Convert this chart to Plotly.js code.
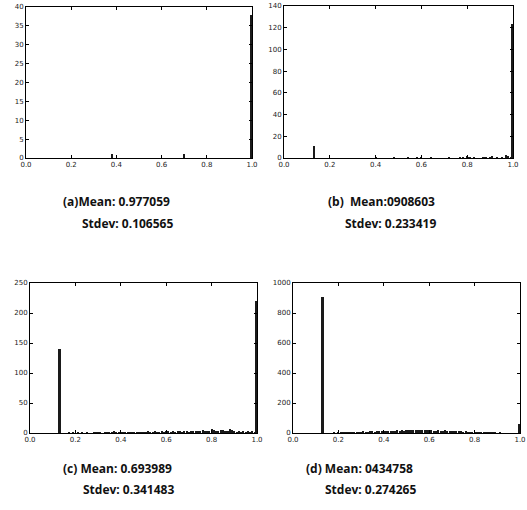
<!DOCTYPE html>
<html>
<head>
<meta charset="utf-8">
<script src="https://cdn.plot.ly/plotly-3.0.1.min.js"></script>
<style>body{margin:0;padding:0;background:#fff}#chart{width:527px;height:510px}</style>
</head>
<body>
<div id="chart"></div>
<script>
// Panel (a)
const aX = [0.38, 0.70, 0.995];
const aY = [1, 1, 38];
// Panel (b)
const bX = [0.13, 0.40, 0.48, 0.54, 0.58, 0.60, 0.64, 0.72, 0.77, 0.78, 0.80, 0.81, 0.83, 0.87, 0.88, 0.90, 0.91, 0.93, 0.95, 0.97, 0.98, 0.99, 0.995];
const bY = [11, 0.5, 1, 1, 1, 1, 0.5, 0.5, 1, 1, 1.5, 1, 1, 1, 1, 1, 1.5, 1, 1, 3, 2, 1, 123];
// Panel (c)
const cX = [0.13, 0.17,0.19,0.21,0.23,0.25,0.28,0.29,0.30,0.31,0.33,0.34,0.35,0.36,0.37,0.38,0.39,0.40,0.41,0.42,0.43,0.44,0.45,0.46,0.47,0.48,0.49,0.50,0.51,0.52,0.53,0.54,0.55,0.56,0.57,0.58,0.59,0.60,0.61,0.62,0.63,0.64,0.65,0.66,0.67,0.68,0.69,0.70,0.71,0.72,0.73,0.74,0.75,0.76,0.77,0.78,0.79,0.80,0.81,0.82,0.83,0.84,0.85,0.86,0.87,0.88,0.89,0.90,0.91,0.92,0.93,0.94,0.95,0.96,0.97,0.98,0.99, 0.995];
const cY = [140, 1,1,1,1,1,1,1,1,1,1,1,1,1,3,1,1,1,1,2,1,2,1,1,2,1,2,2,1,3,2,2,3,2,2,3,2,3,4,2,3,2,3,3,2,3,3,2,4,3,3,4,3,5,4,3,4,6,5,3,4,5,5,4,3,6,5,3,2,3,2,3,2,3,2,3,2, 220];
// Panel (d)
const dX = [0.13, 0.15,0.16,0.17,0.18,0.19,0.20,0.21,0.22,0.23,0.24,0.25,0.26,0.27,0.28,0.29,0.30,0.31,0.32,0.33,0.34,0.35,0.36,0.37,0.38,0.39,0.40,0.41,0.42,0.43,0.44,0.45,0.46,0.47,0.48,0.49,0.50,0.51,0.52,0.53,0.54,0.55,0.56,0.57,0.58,0.59,0.60,0.61,0.62,0.63,0.64,0.65,0.66,0.67,0.68,0.69,0.70,0.71,0.72,0.73,0.74,0.75,0.76,0.77,0.78,0.79,0.80,0.81,0.82,0.83,0.84,0.85,0.86,0.87,0.88,0.89,0.90,0.91,0.92,0.93,0.94,0.95,0.96,0.97,0.98, 0.995];
const dY = [910, 2,3,2,4,3,5,4,6,5,7,6,8,7,9,8,9,11,9,10,12,11,10,12,13,11,14,13,15,14,16,15,17,14,18,16,18,17,19,21,18,20,19,17,18,20,18,17,16,15,17,14,15,18,14,13,15,12,13,11,12,10,11,9,10,9,8,10,7,8,6,7,5,6,4,5,3,4,3,2,3,2,2,1,1, 60];

const xTicks = [0, 0.2, 0.4, 0.6, 0.8, 1.0];
const xTickText = ['0.0', '0.2', '0.4', '0.6', '0.8', '1.0'];

const barW = 0.009;
function bars(x, y, xa, ya) {
  return {type: 'bar', x: x, y: y, xaxis: xa, yaxis: ya, width: barW,
          marker: {color: '#1a1a1a', line: {width: 0}}, hoverinfo: 'skip', showlegend: false};
}
const data = [
  bars(aX, aY, 'x', 'y'),
  bars(bX, bY, 'x2', 'y2'),
  bars(cX, cY, 'x3', 'y3'),
  bars(dX, dY, 'x4', 'y4')
];

const W = 527, H = 510;
function dx(a, b) { return [a / W, b / W]; }
function dy(top, bot) { return [1 - bot / H, 1 - top / H]; }
const tickFont = {family: 'DejaVu Sans', size: 7, color: '#222'};
function xax(dom, anchor) {
  return {domain: dom, anchor: anchor, range: [0, 1], tickvals: xTicks, ticktext: xTickText,
          ticks: 'inside', ticklen: 3, tickcolor: '#000', mirror: 'ticks', showline: true, linecolor: '#000',
          linewidth: 1, showgrid: false, zeroline: false, tickfont: tickFont, fixedrange: true};
}
function yax(dom, anchor, max, step) {
  return {domain: dom, anchor: anchor, range: [0, max], dtick: step, tick0: 0,
          ticks: 'inside', ticklen: 3, tickcolor: '#000', mirror: 'ticks', showline: true, linecolor: '#000',
          linewidth: 1, showgrid: false, zeroline: false, tickfont: tickFont, fixedrange: true};
}

const capFont = {family: 'Open Sans', size: 12, color: '#111', weight: 'bold'};
function cap(text, x, y) {
  return {text: text, xref: 'paper', yref: 'paper', x: x / W, y: 1 - y / H,
          xanchor: 'left', yanchor: 'middle', showarrow: false, font: capFont};
}

const layout = {
  width: W, height: H,
  margin: {l: 0, r: 0, t: 0, b: 0},
  paper_bgcolor: '#fff', plot_bgcolor: '#fff',
  bargap: 0,
  xaxis: xax(dx(26, 252), 'y'),
  yaxis: yax(dy(7, 158), 'x', 40, 5),
  xaxis2: xax(dx(284, 513), 'y2'),
  yaxis2: yax(dy(6, 158), 'x2', 140, 20),
  xaxis3: xax(dx(30, 257), 'y3'),
  yaxis3: yax(dy(283, 433), 'x3', 250, 50),
  xaxis4: xax(dx(293, 520), 'y4'),
  yaxis4: yax(dy(283, 433), 'x4', 1000, 200),
  annotations: [
    cap('(a)Mean: 0.977059', 61, 202),
    cap('Stdev: 0.106565', 80, 223),
    cap('(b)  Mean:0908603', 326, 202),
    cap('Stdev: 0.233419', 343, 223),
    cap('(c) Mean: 0.693989', 61, 468),
    cap('Stdev: 0.341483', 81, 489),
    cap('(d) Mean: 0434758', 304, 468),
    cap('Stdev: 0.274265', 323, 489)
  ]
};

Plotly.newPlot('chart', data, layout, {staticPlot: true, displayModeBar: false});
</script>
</body>
</html>
